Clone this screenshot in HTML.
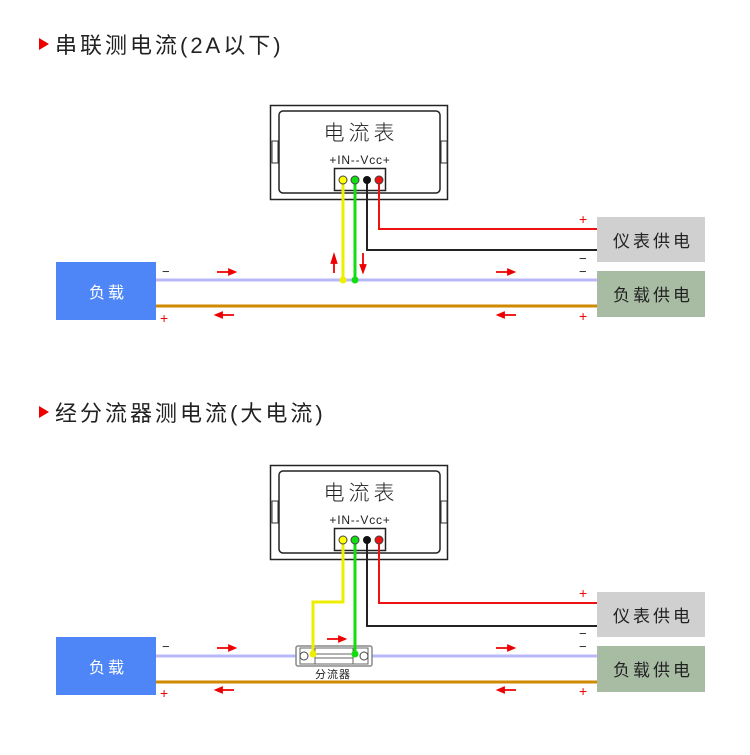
<!DOCTYPE html>
<html><head><meta charset="utf-8"><style>
body{margin:0;background:#fff}
svg text{font-family:"Liberation Sans","Noto Sans CJK SC",sans-serif}
</style></head><body>
<svg width="750" height="750" viewBox="0 0 750 750" xmlns="http://www.w3.org/2000/svg">
<defs>
<g id="meter">
 <rect x="270.5" y="105.5" width="177" height="94" fill="#fff" stroke="#222" stroke-width="1.5"/>
 <rect x="279" y="111" width="161" height="82" rx="4" fill="#fff" stroke="#222" stroke-width="1.5"/>
 <rect x="272" y="141" width="6" height="22" fill="#fff" stroke="#333"/>
 <rect x="441" y="141" width="6" height="22" fill="#fff" stroke="#333"/>
 <text x="361" y="140" font-size="21" text-anchor="middle" fill="#222" letter-spacing="4" font-weight="300">电流表</text>
 <text x="360" y="164" font-size="12" text-anchor="middle" fill="#222" letter-spacing="0.8">+IN--Vcc+</text>
 <rect x="334.5" y="168.5" width="51" height="22" fill="#fff" stroke="#222" stroke-width="1.5"/>
</g>
<g id="dots">
 <circle cx="343" cy="180" r="4" fill="#ff0" stroke="#444"/>
 <circle cx="355" cy="180" r="4" fill="#1d1" stroke="#444"/>
 <circle cx="367" cy="180" r="4" fill="#111"/>
 <circle cx="379" cy="180" r="4" fill="#e11" stroke="#444"/>
</g>
<path id="ar" d="M-9,0 H3 M3,-2.5 L9,0 L3,2.5 Z" stroke="#e00" stroke-width="1.8" fill="#e00"/>
<path id="al" d="M9,0 H-3 M-3,-2.5 L-9,0 L-3,2.5 Z" stroke="#e00" stroke-width="1.8" fill="#e00"/>
</defs>

<!-- Section 1 -->
<polygon points="39,38 49,44 39,50" fill="#e00"/>
<text x="55" y="53" font-size="22" fill="#222" letter-spacing="3">串联测电流(2A以下)</text>
<use href="#meter"/>
<line x1="156" y1="280" x2="597" y2="280" stroke="#b8b8f8" stroke-width="3"/>
<line x1="156" y1="306" x2="597" y2="306" stroke="#d08a00" stroke-width="3"/>
<polyline points="379,180 379,229 597,229" fill="none" stroke="#e11" stroke-width="2"/>
<polyline points="367,180 367,250 597,250" fill="none" stroke="#222" stroke-width="2"/>
<line x1="343" y1="180" x2="343" y2="280" stroke="#ee0" stroke-width="3"/>
<line x1="355" y1="180" x2="355" y2="280" stroke="#1d1" stroke-width="3"/>
<use href="#dots"/>
<circle cx="343" cy="280" r="3.5" fill="#ee0"/>
<circle cx="355" cy="280" r="3.5" fill="#1d1"/>
<path d="M334,273 V261 M331.5,263 L334,255 L336.5,263 Z" stroke="#e00" stroke-width="1.8" fill="#e00"/>
<path d="M363,253 V265 M360.5,265 L363,272 L365.5,265 Z" stroke="#e00" stroke-width="1.8" fill="#e00"/>
<use href="#ar" x="226" y="272"/>
<use href="#ar" x="505" y="272"/>
<use href="#al" x="225" y="315"/>
<use href="#al" x="507" y="315"/>
<rect x="56" y="262" width="100" height="58" fill="#4f86f7"/>
<text x="108" y="298" font-size="16" fill="#fff" text-anchor="middle" letter-spacing="3">负载</text>
<rect x="597" y="217" width="108" height="45" fill="#d0d0d0"/>
<text x="653" y="247" font-size="17" fill="#222" text-anchor="middle" letter-spacing="3">仪表供电</text>
<rect x="597" y="271" width="108" height="46" fill="#a8bca4"/>
<text x="653" y="301" font-size="17" fill="#222" text-anchor="middle" letter-spacing="3">负载供电</text>
<text x="162" y="276" font-size="13" fill="#222">−</text>
<text x="160" y="323" font-size="14" fill="#e00">+</text>
<text x="579" y="224" font-size="14" fill="#e00">+</text>
<text x="579" y="263" font-size="13" fill="#222">−</text>
<text x="579" y="276" font-size="13" fill="#222">−</text>
<text x="579" y="321" font-size="14" fill="#e00">+</text>

<!-- Section 2 -->
<polygon points="39,406 49,412 39,418" fill="#e00"/>
<text x="55" y="421" font-size="22" fill="#222" letter-spacing="3">经分流器测电流(大电流)</text>
<use href="#meter" y="360"/>
<line x1="156" y1="656" x2="597" y2="656" stroke="#b8b8f8" stroke-width="3"/>
<line x1="156" y1="682" x2="597" y2="682" stroke="#d08a00" stroke-width="3"/>
<polyline points="379,540 379,603 597,603" fill="none" stroke="#e11" stroke-width="2"/>
<polyline points="367,540 367,626 597,626" fill="none" stroke="#222" stroke-width="2"/>
<rect x="296" y="646" width="76" height="20" rx="2" fill="#fff" stroke="#888" stroke-width="1.5"/>
<rect x="300" y="648" width="68" height="16" fill="#fff" stroke="#666"/>
<line x1="315" y1="654" x2="353" y2="654" stroke="#666"/>
<line x1="315" y1="658" x2="353" y2="658" stroke="#666"/>
<line x1="315" y1="648" x2="315" y2="664" stroke="#666"/>
<line x1="353" y1="648" x2="353" y2="664" stroke="#666"/>
<circle cx="304" cy="656" r="4" fill="#fff" stroke="#444"/>
<circle cx="364" cy="656" r="4" fill="#fff" stroke="#444"/>
<polyline points="343,540 343,602 313,602 313,654" fill="none" stroke="#ee0" stroke-width="3"/>
<line x1="355" y1="540" x2="355" y2="654" stroke="#1d1" stroke-width="3"/>
<circle cx="313" cy="654" r="3.5" fill="#ee0"/>
<circle cx="355" cy="654" r="3.5" fill="#1d1"/>
<use href="#dots" y="360"/>
<text x="333" y="678" font-size="11" fill="#222" text-anchor="middle" letter-spacing="1">分流器</text>
<use href="#ar" x="336" y="639"/>
<use href="#ar" x="226" y="648"/>
<use href="#ar" x="505" y="648"/>
<use href="#al" x="225" y="690"/>
<use href="#al" x="507" y="690"/>
<rect x="56" y="637" width="100" height="58" fill="#4f86f7"/>
<text x="108" y="673" font-size="16" fill="#fff" text-anchor="middle" letter-spacing="3">负载</text>
<rect x="597" y="592" width="108" height="45" fill="#d0d0d0"/>
<text x="653" y="622" font-size="17" fill="#222" text-anchor="middle" letter-spacing="3">仪表供电</text>
<rect x="597" y="646" width="108" height="46" fill="#a8bca4"/>
<text x="653" y="676" font-size="17" fill="#222" text-anchor="middle" letter-spacing="3">负载供电</text>
<text x="162" y="651" font-size="13" fill="#222">−</text>
<text x="160" y="698" font-size="14" fill="#e00">+</text>
<text x="579" y="598" font-size="14" fill="#e00">+</text>
<text x="579" y="638" font-size="13" fill="#222">−</text>
<text x="579" y="651" font-size="13" fill="#222">−</text>
<text x="579" y="696" font-size="14" fill="#e00">+</text>
</svg>
</body></html>
